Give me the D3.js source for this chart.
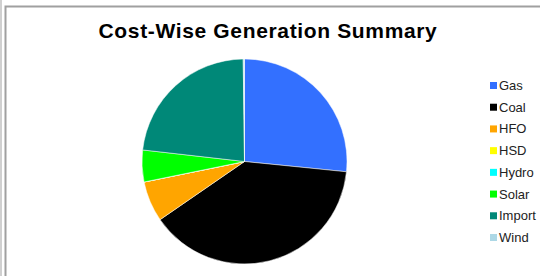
<!DOCTYPE html>
<html><head><meta charset="utf-8">
<script src="https://cdn.jsdelivr.net/npm/d3@7"></script>
<style>
html,body{margin:0;padding:0;background:#fff;}
svg{display:block;font-family:"Liberation Sans",Arial,sans-serif;}
</style></head>
<body>
<svg id="chart" width="540" height="276"></svg>
<script>
const categories = ["Gas","Coal","HFO","HSD","Hydro","Solar","Import","Wind"];
const values = [26.6, 38.8, 6.4, 0, 0, 5.0, 23.0, 0.2];
const colors = ["#3370ff","#000000","#ffa500","#ffff00","#00ffff","#00ff00","#008878","#add8e6"];
const title = "Cost-Wise Generation Summary";

const svg = d3.select("#chart");
// frame lines
svg.append("rect").attr("x",0).attr("y",0).attr("width",2).attr("height",276).attr("fill","#d0d0d0");
svg.append("path").attr("d","M5.5,276 V6.5 H540").attr("fill","none").attr("stroke","#a0a0a0").attr("stroke-width",2);

svg.append("text").attr("x",268).attr("y",37.5).attr("text-anchor","middle")
  .attr("font-size",21).attr("font-weight","bold").attr("letter-spacing","0.65px")
  .attr("fill","#000").text(title);

const data = categories.map((c,i)=>({name:c,value:values[i],color:colors[i]}));
const pie = d3.pie().sort(null).value(d=>d.value);
const arc = d3.arc().innerRadius(0).outerRadius(102.5);
const g = svg.append("g").attr("transform","translate(244.5,161.5)");
g.selectAll("path").data(pie(data)).join("path")
  .attr("d",arc).attr("fill",d=>d.data.color)
  .attr("stroke","#fff").attr("stroke-width",0.5);

const y = d3.scalePoint().domain(categories).range([85.5,237.5]);
const lg = svg.append("g");
const item = lg.selectAll("g").data(data).join("g")
  .attr("transform",d=>`translate(490,${y(d.name)})`);
item.append("rect").attr("x",0).attr("y",-3.5).attr("width",7).attr("height",7).attr("fill",d=>d.color);
item.append("text").attr("x",9).attr("y",4.5).attr("font-size",13).attr("fill","#222").text(d=>d.name);
</script>
</body></html>
